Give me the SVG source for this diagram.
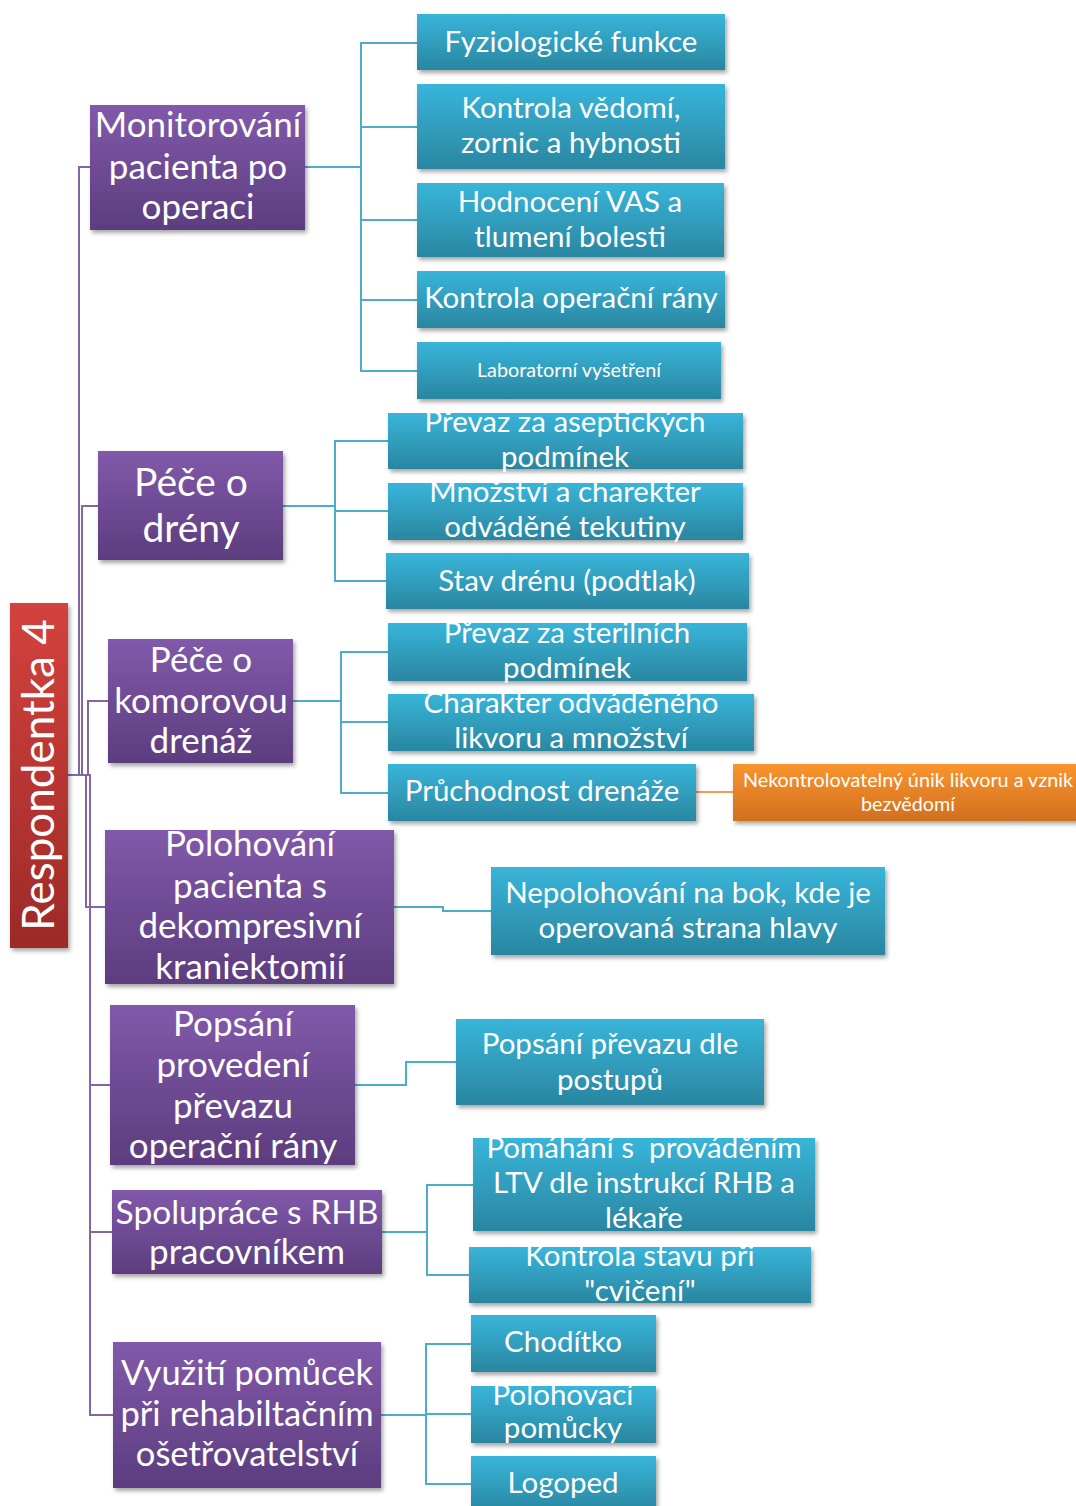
<svg xmlns="http://www.w3.org/2000/svg" width="1076" height="1506" viewBox="0 0 1076 1506">
  <defs>
    <linearGradient id="gPurple" x1="0" y1="0" x2="0" y2="1">
      <stop offset="0" stop-color="#8159aa"/>
      <stop offset="1" stop-color="#5c3d7e"/>
    </linearGradient>
    <linearGradient id="gTeal" x1="0" y1="0" x2="0" y2="1">
      <stop offset="0" stop-color="#38b5da"/>
      <stop offset="1" stop-color="#2a86a0"/>
    </linearGradient>
    <linearGradient id="gRed" x1="0" y1="0" x2="0" y2="1">
      <stop offset="0" stop-color="#d4423e"/>
      <stop offset="1" stop-color="#9c2a27"/>
    </linearGradient>
    <linearGradient id="gOrange" x1="0" y1="0" x2="0" y2="1">
      <stop offset="0" stop-color="#f8952e"/>
      <stop offset="1" stop-color="#d26f1f"/>
    </linearGradient>
    <filter id="shadow" x="-10%" y="-20%" width="130%" height="150%">
      <feDropShadow dx="2" dy="3" stdDeviation="2.2" flood-color="#000" flood-opacity="0.35"/>
    </filter>
  </defs>
  <style>
    .purple { fill: url(#gPurple); filter: url(#shadow); }
    .teal { fill: url(#gTeal); filter: url(#shadow); }
    .red { fill: url(#gRed); filter: url(#shadow); }
    .orange { fill: url(#gOrange); filter: url(#shadow); }
    text { font-family: Lato, "Open Sans", sans-serif; fill: #ffffff; text-anchor: middle; }
    .tp { font-size: 35px; }
    .tb { font-size: 39px; }
    .tt { font-size: 29.5px; }
    .ts { font-size: 19.8px; }
    .tr { font-size: 44px; }
    .cp { fill: none; stroke: #8466a8; stroke-width: 2; }
    .ct { fill: none; stroke: #4aaec8; stroke-width: 2; }
    .co { fill: none; stroke: #f59a4e; stroke-width: 2; }
  </style>

  <!-- connectors -->
  <g id="connectors">
    <!-- root to first-level topics -->
    <path class="cp" d="M68,775 H79 V167 H90"/>
    <path class="cp" d="M68,775 H82 V506 H98"/>
    <path class="cp" d="M68,775 H88 V701 H108"/>
    <path class="cp" d="M68,775 H86 V907 H105"/>
    <path class="cp" d="M68,775 H90 V1085 H110"/>
    <path class="cp" d="M68,775 H90 V1232 H112"/>
    <path class="cp" d="M68,775 H90 V1415 H113"/>
    <!-- monitoring group -->
    <path class="ct" d="M305,167 H361"/>
    <path class="ct" d="M417,43 H361 V371 H417"/>
    <path class="ct" d="M361,127 H417"/>
    <path class="ct" d="M361,220 H417"/>
    <path class="ct" d="M361,300 H417"/>
    <!-- drains group -->
    <path class="ct" d="M283,506 H335"/>
    <path class="ct" d="M388,441 H335 V581 H386"/>
    <path class="ct" d="M335,511 H388"/>
    <!-- ventricular drain group -->
    <path class="ct" d="M293,701 H341"/>
    <path class="ct" d="M388,652 H341 V793 H388"/>
    <path class="ct" d="M341,722 H388"/>
    <path class="co" d="M696,792 H733"/>
    <!-- positioning -->
    <path class="ct" d="M394,907 H443 V911 H491"/>
    <!-- dressing description -->
    <path class="ct" d="M355,1085 H406 V1062 H456"/>
    <!-- rehabilitation cooperation -->
    <path class="ct" d="M382,1232 H427"/>
    <path class="ct" d="M473,1185 H427 V1275 H469"/>
    <!-- aids -->
    <path class="ct" d="M381,1415 H426"/>
    <path class="ct" d="M471,1344 H426 V1484 H471"/>
    <path class="ct" d="M426,1414 H471"/>
  </g>

  <!-- root -->
  <g id="root">
    <rect class="red" x="10" y="603" width="58" height="345"/>
    <text class="tr" transform="translate(54,775) rotate(-90)">Respondentka 4</text>
  </g>

  <!-- first-level topics -->
  <g id="monitorovani">
    <rect class="purple" x="90" y="105" width="215" height="125"/>
    <text class="tp" x="198" y="137">Monitorování</text>
    <text class="tp" x="198" y="179">pacienta po</text>
    <text class="tp" x="198" y="219">operaci</text>
  </g>
  <g id="pece-dreny">
    <rect class="purple" x="98" y="451" width="185" height="109"/>
    <text class="tb" x="191" y="496">Péče o</text>
    <text class="tb" x="191" y="542">drény</text>
  </g>
  <g id="pece-komorova">
    <rect class="purple" x="108" y="639" width="185" height="124"/>
    <text class="tp" x="201" y="672">Péče o</text>
    <text class="tp" x="201" y="713">komorovou</text>
    <text class="tp" x="201" y="753">drenáž</text>
  </g>
  <g id="polohovani">
    <rect class="purple" x="105" y="830" width="289" height="154"/>
    <text class="tp" x="250" y="856">Polohování</text>
    <text class="tp" x="250" y="898">pacienta s</text>
    <text class="tp" x="250" y="938">dekompresivní</text>
    <text class="tp" x="250" y="979">kraniektomií</text>
  </g>
  <g id="popsani">
    <rect class="purple" x="110" y="1005" width="245" height="160"/>
    <text class="tp" x="233" y="1036">Popsání</text>
    <text class="tp" x="233" y="1077">provedení</text>
    <text class="tp" x="233" y="1118">převazu</text>
    <text class="tp" x="233" y="1158">operační rány</text>
  </g>
  <g id="spoluprace">
    <rect class="purple" x="112" y="1190" width="270" height="84"/>
    <text class="tp" x="247" y="1224" style="font-size:33.5px">Spolupráce s RHB</text>
    <text class="tp" x="247" y="1264">pracovníkem</text>
  </g>
  <g id="vyuziti">
    <rect class="purple" x="113" y="1342" width="268" height="146"/>
    <text class="tp" x="247" y="1385" style="font-size:34.5px">Využití pomůcek</text>
    <text class="tp" x="247" y="1426" style="font-size:34.5px">při rehabiltačním</text>
    <text class="tp" x="247" y="1466" style="font-size:34.5px">ošetřovatelství</text>
  </g>

  <!-- monitoring items -->
  <g id="fyziologicke">
    <rect class="teal" x="417" y="14" width="308" height="56"/>
    <text class="tt" x="571" y="52">Fyziologické funkce</text>
  </g>
  <g id="kontrola-vedomi">
    <rect class="teal" x="417" y="84" width="308" height="85"/>
    <text class="tt" x="571" y="118">Kontrola vědomí,</text>
    <text class="tt" x="571" y="153">zornic a hybnosti</text>
  </g>
  <g id="hodnoceni-vas">
    <rect class="teal" x="417" y="183" width="307" height="74"/>
    <text class="tt" x="570" y="212">Hodnocení VAS a</text>
    <text class="tt" x="570" y="247">tlumení bolesti</text>
  </g>
  <g id="kontrola-rany">
    <rect class="teal" x="417" y="271" width="308" height="57"/>
    <text class="tt" x="571" y="308">Kontrola operační rány</text>
  </g>
  <g id="laboratorni">
    <rect class="teal" x="417" y="342" width="304" height="57"/>
    <text class="ts" x="569" y="377">Laboratorní vyšetření</text>
  </g>

  <!-- drain items -->
  <g id="prevaz-asepticky">
    <rect class="teal" x="388" y="413" width="355" height="56"/>
    <text class="tt" x="565" y="432">Převaz za aseptických</text>
    <text class="tt" x="565" y="467">podmínek</text>
  </g>
  <g id="mnozstvi">
    <rect class="teal" x="388" y="483" width="355" height="57"/>
    <text class="tt" x="565" y="502">Množství a charekter</text>
    <text class="tt" x="565" y="537">odváděné tekutiny</text>
  </g>
  <g id="stav-drenu">
    <rect class="teal" x="386" y="553" width="363" height="56"/>
    <text class="tt" x="567" y="591">Stav drénu (podtlak)</text>
  </g>

  <!-- ventricular drain items -->
  <g id="prevaz-sterilni">
    <rect class="teal" x="388" y="623" width="359" height="58"/>
    <text class="tt" x="567" y="643">Převaz za sterilních</text>
    <text class="tt" x="567" y="678">podmínek</text>
  </g>
  <g id="charakter">
    <rect class="teal" x="388" y="694" width="366" height="57"/>
    <text class="tt" x="571" y="713">Charakter odváděného</text>
    <text class="tt" x="571" y="748">likvoru a množství</text>
  </g>
  <g id="pruchodnost">
    <rect class="teal" x="388" y="764" width="308" height="57"/>
    <text class="tt" x="542" y="801">Průchodnost drenáže</text>
  </g>
  <g id="nekontrolovatelny">
    <rect class="orange" x="733" y="764" width="345" height="57"/>
    <text class="ts" x="908" y="787">Nekontrolovatelný únik likvoru a vznik</text>
    <text class="ts" x="908" y="811">bezvědomí</text>
  </g>

  <!-- positioning item -->
  <g id="nepolohovani">
    <rect class="teal" x="491" y="867" width="394" height="88"/>
    <text class="tt" x="688" y="903">Nepolohování na bok, kde je</text>
    <text class="tt" x="688" y="938">operovaná strana hlavy</text>
  </g>

  <!-- dressing item -->
  <g id="popsani-prevazu">
    <rect class="teal" x="456" y="1019" width="308" height="86"/>
    <text class="tt" x="610" y="1054">Popsání převazu dle</text>
    <text class="tt" x="610" y="1090">postupů</text>
  </g>

  <!-- rehabilitation items -->
  <g id="pomahani">
    <rect class="teal" x="473" y="1138" width="342" height="93"/>
    <text class="tt" x="644" y="1158" xml:space="preserve">Pomáhání s  prováděním</text>
    <text class="tt" x="644" y="1193">LTV dle instrukcí RHB a</text>
    <text class="tt" x="644" y="1228">lékaře</text>
  </g>
  <g id="kontrola-stavu">
    <rect class="teal" x="469" y="1247" width="342" height="56"/>
    <text class="tt" x="640" y="1266">Kontrola stavu při</text>
    <text class="tt" x="640" y="1301">"cvičení"</text>
  </g>

  <!-- aids items -->
  <g id="choditko">
    <rect class="teal" x="471" y="1315" width="185" height="57"/>
    <text class="tt" x="563" y="1352">Chodítko</text>
  </g>
  <g id="polohovaci-pomucky">
    <rect class="teal" x="471" y="1386" width="185" height="57"/>
    <text class="tt" x="563" y="1405">Polohovací</text>
    <text class="tt" x="563" y="1438">pomůcky</text>
  </g>
  <g id="logoped">
    <rect class="teal" x="471" y="1456" width="185" height="57"/>
    <text class="tt" x="563" y="1493">Logoped</text>
  </g>
</svg>
